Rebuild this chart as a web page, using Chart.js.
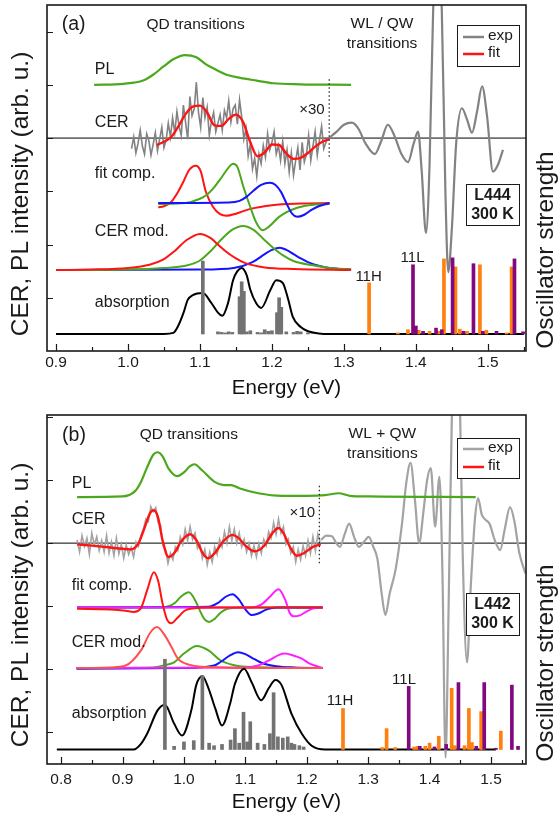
<!DOCTYPE html>
<html>
<head>
<meta charset="utf-8">
<script src="https://cdn.jsdelivr.net/npm/chart.js@4.4.1/dist/chart.umd.min.js"></script>
<style>
  html, body { margin: 0; padding: 0; background: #fff; }
  #wrap { position: relative; width: 560px; height: 819px; overflow: hidden; }
  canvas { position: absolute; left: 0; }
  #ca { top: 0; }
  #cb { top: 405px; }
</style>
</head>
<body>
<div id="wrap">
  <canvas id="ca" width="560" height="405"></canvas>
  <canvas id="cb" width="560" height="414"></canvas>
</div>
<script>
// ---- panel (a) data : energies (eV) and offset intensities (arb. u.) ----
const xTicksA = [0.9, 1.0, 1.1, 1.2, 1.3, 1.4, 1.5];
const xMinorA = [0.95, 1.05, 1.15, 1.25, 1.35, 1.45, 1.55];
const yTicksA = [1, 2, 3, 4, 5, 6];

const plA_E = [0.953,0.994,1.021,1.035,1.049,1.063,1.079,1.095,1.109,1.123,1.137,1.156,1.179,1.202,1.239,1.31];
const plA_V = [5.00,5.02,5.08,5.19,5.34,5.48,5.56,5.52,5.38,5.28,5.19,5.13,5.08,5.03,5.01,5.00];

// CER exp, x30 part (uniform energy step)
const expA_E0 = 1.005, expA_dE = 0.003;
const expA_V = [3.80,4.02,3.72,3.90,4.15,3.85,3.70,4.08,3.95,3.68,
  3.88,4.10,3.76,3.98,4.20,3.82,3.96,4.28,4.02,4.38,
  4.10,4.50,4.22,4.05,4.62,4.30,3.98,4.78,4.42,4.55,
  5.05,4.48,4.20,4.76,4.38,4.58,4.05,4.32,4.48,4.12,
  4.28,4.44,4.15,4.52,4.38,4.70,4.30,4.55,4.62,4.26,
  4.72,4.40,3.98,4.18,3.66,3.88,3.42,3.62,3.28,3.70,
  3.52,3.86,3.64,4.08,3.78,3.92,4.12,3.70,3.86,3.58,
  3.94,3.52,3.78,3.36,3.72,3.30,3.58,3.82,3.40,3.92,
  3.55,3.70,4.05,3.58,3.85,4.12,3.68,3.96,4.22,3.80,
  3.92,4.00];
// CER exp, WL / QW part
const wlA_E = [1.279,1.29,1.30,1.311,1.32,1.33,1.343,1.352,1.361,1.37,1.38,1.389,1.397,1.403,1.408,1.414,1.419,1.424,1.430,1.436,1.441,1.445,1.450,1.456,1.464,1.471,1.478,1.485,1.492,1.499,1.507,1.514,1.521];
const wlA_V = [4.00,4.12,4.25,4.29,4.18,3.90,3.70,3.95,4.25,4.05,3.70,3.55,3.90,4.12,3.40,2.22,3.50,6.40,7.60,6.40,3.00,1.48,2.30,3.90,4.56,4.35,4.10,4.50,4.97,4.40,3.37,3.50,3.78];

const fitA_E = [1.04,1.05,1.06,1.07,1.08,1.09,1.10,1.11,1.12,1.13,1.14,1.15,1.16,1.17,1.18,1.19,1.20,1.21,1.22,1.23,1.24,1.25,1.26,1.27,1.28];
const fitA_V = [3.87,3.93,4.02,4.22,4.45,4.59,4.61,4.48,4.24,4.23,4.36,4.44,4.30,3.92,3.66,3.73,3.88,3.87,3.71,3.61,3.63,3.72,3.84,3.93,3.98];

// fit components
const crA_E = [1.042,1.05,1.06,1.07,1.077,1.085,1.094,1.101,1.108,1.118,1.128,1.137,1.15,1.17,1.20,1.24,1.28];
const crA_V = [2.70,2.72,2.80,3.00,3.18,3.40,3.48,3.38,3.00,2.71,2.57,2.54,2.58,2.67,2.74,2.77,2.78];
const cgA_E = [1.042,1.08,1.10,1.11,1.12,1.13,1.14,1.146,1.152,1.16,1.168,1.178,1.187,1.197,1.21,1.235,1.26,1.28];
const cgA_V = [2.76,2.78,2.86,2.94,3.08,3.26,3.45,3.52,3.46,3.10,2.78,2.42,2.27,2.35,2.52,2.69,2.75,2.76];
const cbA_E = [1.042,1.14,1.155,1.165,1.175,1.185,1.197,1.205,1.213,1.22,1.228,1.235,1.245,1.255,1.265,1.28];
const cbA_V = [2.78,2.79,2.82,2.90,3.02,3.12,3.16,3.12,2.98,2.78,2.58,2.52,2.56,2.65,2.72,2.78];

// CER modulus
const mrA_E = [0.90,0.95,1.00,1.03,1.048,1.065,1.082,1.10,1.115,1.125,1.137,1.15,1.163,1.19,1.23,1.31];
const mrA_V = [1.52,1.53,1.56,1.62,1.71,1.88,2.09,2.20,2.12,2.00,1.86,1.74,1.65,1.57,1.54,1.52];
const mgA_E = [0.90,1.00,1.05,1.08,1.10,1.115,1.13,1.145,1.16,1.175,1.19,1.20,1.215,1.23,1.257,1.28,1.31];
const mgA_V = [1.52,1.53,1.56,1.60,1.70,1.88,2.10,2.28,2.35,2.27,2.08,1.96,1.80,1.69,1.61,1.56,1.53];
const mbA_E = [0.90,1.10,1.147,1.173,1.19,1.20,1.211,1.22,1.23,1.24,1.25,1.265,1.28,1.31];
const mbA_V = [1.52,1.53,1.56,1.67,1.82,1.90,1.94,1.90,1.82,1.74,1.67,1.60,1.56,1.53];

// absorption
const abA_E = [0.90,1.05,1.063,1.069,1.077,1.083,1.09,1.104,1.115,1.125,1.131,1.139,1.146,1.152,1.158,1.165,1.170,1.178,1.185,1.198,1.206,1.215,1.222,1.229,1.24,1.25,1.265,1.28,1.55];
const abA_V = [0.32,0.32,0.34,0.45,0.71,0.96,1.05,1.09,0.92,0.72,0.66,0.90,1.33,1.50,1.56,1.42,1.15,0.90,0.81,1.15,1.33,1.28,1.00,0.64,0.45,0.37,0.33,0.32,0.32];

// oscillator strengths (height above absorption baseline)
const qdA_E = [1.104,1.125,1.13,1.135,1.14,1.145,1.155,1.158,1.161,1.165,1.17,1.18,1.185,1.19,1.195,1.20,1.207,1.210,1.213,1.22,1.23,1.235,1.24,1.25];
const qdA_H = [1.37,0.04,0.03,0.02,0.04,0.03,0.70,0.98,0.80,0.04,0.06,0.03,0.02,0.08,0.05,0.06,0.40,0.68,0.50,0.04,0.03,0.05,0.04,0.02];
const orA_E = [1.335,1.375,1.389,1.404,1.419,1.431,1.439,1.455,1.461,1.471,1.489,1.498,1.526,1.533];
const orA_H = [0.96,0.02,0.08,0.07,0.05,0.05,1.41,1.26,0.09,0.05,1.30,0.07,0.02,1.26];
const puA_E = [1.396,1.40,1.41,1.428,1.436,1.451,1.466,1.480,1.493,1.512,1.537,1.549];
const puA_H = [1.30,0.15,0.05,0.11,0.08,1.43,0.05,1.32,0.05,0.05,1.41,0.04];

const zeroA_E = [0.8875, 1.553], zeroA_V = [4, 4];
const dotA_E = [1.2796, 1.2796], dotA_V = [3.65, 5.13];

// ---- panel (b) data ----
const xTicksB = [0.8, 0.9, 1.0, 1.1, 1.2, 1.3, 1.4, 1.5];
const xMinorB = [0.85, 0.95, 1.05, 1.15, 1.25, 1.35, 1.45, 1.55];
const yTicksB = [0, 1, 2, 3, 4, 5];

const plB_E = [0.826,0.90,0.92,0.93,0.94,0.95,0.957,0.965,0.975,0.989,1.00,1.01,1.017,1.03,1.05,1.065,1.077,1.09,1.121,1.16,1.20,1.23,1.252,1.27,1.30,1.475];
const plB_V = [3.73,3.74,3.82,3.97,4.20,4.40,4.44,4.38,4.18,4.06,4.12,4.22,4.25,4.15,3.97,3.92,3.92,3.87,3.79,3.75,3.75,3.76,3.79,3.75,3.74,3.73];

const expB_E0 = 0.826, expB_dE = 0.004;
const expB_V = [3.05,2.86,3.12,2.95,3.08,2.82,3.16,2.97,3.10,2.88,
  3.04,2.86,3.12,2.84,3.02,2.80,3.08,2.83,2.98,2.76,
  2.97,2.82,2.93,2.78,3.02,
  2.95,3.12,3.22,3.38,3.34,3.58,3.50,3.56,3.32,3.28,
  2.96,2.90,2.68,2.84,2.74,2.94,
  2.88,3.10,2.98,3.22,3.04,3.26,3.06,3.16,2.92,3.00,
  2.76,2.90,2.66,2.86,2.70,2.94,2.82,3.06,2.94,3.18,
  3.00,3.26,3.04,3.22,3.00,3.16,2.94,3.06,2.86,3.00,
  2.80,2.96,2.78,2.99,2.84,3.06,2.96,3.18,3.08,3.32,
  3.14,3.38,3.16,3.26,2.98,3.06,2.84,2.94,2.70,2.90,
  2.74,2.96,2.80,3.04,2.84,3.10,2.88,3.14,3.00];
const wlB_E = [1.223,1.232,1.241,1.248,1.254,1.262,1.269,1.277,1.285,1.293,1.301,1.308,1.315,1.322,1.328,1.335,1.345,1.355,1.362,1.369,1.376,1.383,1.390,1.396,1.402,1.409,1.416,1.421,1.426,1.431,1.437,1.443,1.449,1.454,1.461,1.467,1.474,1.479,1.485,1.490,1.498,1.506,1.515,1.522,1.531,1.538,1.546,1.556];
const wlB_V = [3.05,3.12,3.11,3.00,2.94,3.15,3.31,3.10,2.94,3.02,3.10,2.95,2.75,2.20,1.86,2.20,2.60,3.30,3.95,4.27,3.70,3.00,3.50,4.00,4.19,3.26,4.05,2.50,-0.40,2.00,5.40,6.20,5.40,2.80,1.11,2.30,3.40,3.71,3.45,3.38,3.30,3.05,2.89,3.20,3.57,3.35,2.85,2.52];

const fitB_E = [0.826,0.85,0.88,0.90,0.913,0.925,0.935,0.945,0.951,0.958,0.965,0.975,0.985,0.995,1.01,1.02,1.03,1.039,1.05,1.065,1.079,1.09,1.10,1.115,1.13,1.145,1.154,1.162,1.172,1.184,1.195,1.21,1.223];
const fitB_V = [2.98,2.96,2.93,2.91,2.90,2.98,3.22,3.48,3.52,3.40,3.05,2.78,2.85,3.02,3.14,3.05,2.85,2.76,2.84,3.04,3.13,3.07,2.96,2.87,2.95,3.17,3.24,3.16,2.95,2.80,2.84,2.94,2.98];

const crB_E = [0.826,0.88,0.905,0.918,0.93,0.94,0.951,0.958,0.965,0.972,0.979,0.99,1.00,1.01,1.05,1.226];
const crB_V = [1.96,1.95,1.93,1.91,1.97,2.25,2.54,2.40,2.05,1.80,1.73,1.82,1.92,1.96,1.98,1.98];
const cgB_E = [0.826,0.96,0.975,0.985,0.995,1.008,1.018,1.025,1.033,1.041,1.05,1.06,1.071,1.10,1.226];
const cgB_V = [1.98,1.98,2.00,2.05,2.15,2.22,2.10,1.95,1.80,1.75,1.80,1.90,1.96,1.98,1.98];
const cbB_E = [0.826,1.04,1.055,1.068,1.079,1.09,1.10,1.11,1.12,1.135,1.15,1.226];
const cbB_V = [1.98,1.99,2.05,2.15,2.19,2.10,1.95,1.86,1.88,1.95,1.98,1.98];
const cmB_E = [0.826,1.11,1.125,1.14,1.154,1.165,1.172,1.178,1.19,1.20,1.213,1.226];
const cmB_V = [1.98,1.98,2.02,2.15,2.27,2.10,1.90,1.84,1.86,1.92,1.97,1.98];

const mrB_E = [0.825,0.88,0.905,0.93,0.945,0.956,0.968,0.98,0.99,1.01,1.03,1.06,1.10,1.226];
const mrB_V = [1.02,1.03,1.06,1.30,1.58,1.67,1.55,1.35,1.17,1.07,1.04,1.03,1.02,1.02];
const mgB_E = [0.825,0.95,0.97,0.984,1.00,1.021,1.04,1.06,1.08,1.10,1.226];
const mgB_V = [1.02,1.03,1.07,1.11,1.25,1.37,1.30,1.14,1.07,1.04,1.02];
const mbB_E = [0.825,1.00,1.049,1.06,1.075,1.088,1.10,1.115,1.127,1.15,1.18,1.226];
const mbB_V = [1.01,1.02,1.06,1.12,1.22,1.27,1.24,1.16,1.10,1.05,1.03,1.02];
const mmB_E = [0.825,1.10,1.121,1.14,1.155,1.164,1.178,1.192,1.203,1.213,1.226];
const mmB_V = [1.02,1.03,1.06,1.15,1.23,1.25,1.22,1.17,1.10,1.06,1.02];

const abB_E = [0.793,0.918,0.93,0.94,0.957,0.969,0.984,0.997,1.012,1.02,1.03,1.04,1.051,1.062,1.075,1.083,1.098,1.11,1.126,1.138,1.149,1.159,1.175,1.192,1.208,1.23,1.508];
const abB_V = [-0.27,-0.27,-0.18,-0.02,0.35,0.44,0.14,-0.05,0.35,0.75,0.89,0.70,0.38,0.11,0.45,0.77,1.01,0.80,0.51,0.70,0.83,0.75,0.30,-0.02,-0.21,-0.27,-0.27];

const qdB_E = [0.969,0.984,1.000,1.016,1.030,1.041,1.049,1.062,1.076,1.083,1.090,1.097,1.103,1.108,1.12,1.131,1.140,1.146,1.153,1.161,1.169,1.175,1.18,1.188,1.195];
const qdB_H = [1.43,0.05,0.12,0.14,1.17,0.10,0.06,0.08,0.15,0.33,0.10,0.59,0.12,0.44,0.10,0.08,0.25,0.90,0.20,0.18,0.20,0.10,0.08,0.06,0.04];
const orB_E = [1.259,1.323,1.330,1.344,1.375,1.381,1.393,1.400,1.415,1.436,1.441,1.457,1.464,1.469,1.484,1.487,1.516];
const orB_H = [0.65,0.03,0.33,0.03,0.04,0.05,0.05,0.10,0.21,0.97,0.06,0.06,0.65,0.11,0.60,0.06,0.29];
const puB_E = [1.366,1.384,1.408,1.427,1.447,1.476,1.489,1.508,1.534,1.544];
const puB_H = [1.00,0.05,0.04,0.08,1.06,0.05,1.06,0.02,1.02,0.05];

const zeroB_E = [0.777, 1.557], zeroB_V = [3, 3];
const dotB_E = [1.2205, 1.2205], dotB_V = [2.68, 3.92];

// ---- styling helpers ----
const FONT = '"Liberation Sans", Arial, Helvetica, sans-serif';
Chart.defaults.font.family = FONT;
Chart.defaults.color = '#1a1a1a';

const GREEN = '#4ba81c', RED = '#ff1414', BLUE = '#1414ff', MAG = '#ff1eff';
const ORANGE = '#ff7f0f', PURPLE = '#82087f', BARGRAY = '#727272';

let ord = 0;
function curve(E, V, color, w, more) {
  return Object.assign({
    type: 'line', yAxisID: 'y',
    data: E.map((e, i) => ({x: e, y: V[i]})),
    borderColor: color, borderWidth: w, pointRadius: 0, fill: false,
    cubicInterpolationMode: 'monotone', order: ord--
  }, more || {});
}
function noisy(e0, de, V, color, w) {
  const E = V.map((_, i) => +(e0 + i * de).toFixed(4));
  return curve(E, V, color, w, {cubicInterpolationMode: 'default', tension: 0});
}
function sticks(E, H, color, w) {
  return {
    type: 'bar', yAxisID: 'y2',
    data: E.map((e, i) => ({x: e, y: H[i]})),
    backgroundColor: color, barThickness: w, grouped: false, borderWidth: 0, order: ord--
  };
}

function decor(o) {
  return {
    id: 'decor',
    afterDatasetsDraw(chart) {
      const {ctx, chartArea: a, scales: {x, y}} = chart;
      ctx.save();
      // inward tick marks
      ctx.strokeStyle = '#1a1a1a';
      ctx.lineWidth = 1.2;
      ctx.beginPath();
      o.xMajor.forEach(v => { const p = Math.round(x.getPixelForValue(v)) + 0.5; ctx.moveTo(p, a.bottom); ctx.lineTo(p, a.bottom - 7); });
      o.xMinor.forEach(v => { const p = Math.round(x.getPixelForValue(v)) + 0.5; ctx.moveTo(p, a.bottom); ctx.lineTo(p, a.bottom - 4); });
      o.yTicks.forEach(v => { const p = Math.round(y.getPixelForValue(v)) + 0.5; ctx.moveTo(a.left, p); ctx.lineTo(a.left + 6, p); });
      ctx.stroke();
      ctx.lineWidth = 1.6;
      ctx.strokeRect(a.left, a.top, a.right - a.left, a.bottom - a.top);

      // text labels placed in data coordinates
      ctx.fillStyle = '#1a1a1a';
      ctx.textBaseline = 'middle';
      o.labels.forEach(([t, ex, ey, al, sz]) => {
        ctx.font = sz + 'px ' + FONT;
        ctx.textAlign = al;
        ctx.fillText(t, x.getPixelForValue(ex), y.getPixelForValue(ey));
      });

      // legend box
      const L = o.legend;
      ctx.fillStyle = '#fff';
      ctx.fillRect(L.x, L.y, L.w, L.h);
      ctx.lineWidth = 1;
      ctx.strokeStyle = '#1a1a1a';
      ctx.strokeRect(L.x + 0.5, L.y + 0.5, L.w, L.h);
      ctx.lineWidth = 2.5;
      [[o.expColor, 'exp', L.y1], [RED, 'fit', L.y2]].forEach(([c, t, ly]) => {
        ctx.strokeStyle = c;
        ctx.beginPath(); ctx.moveTo(L.x + 6, ly); ctx.lineTo(L.x + 27, ly); ctx.stroke();
        ctx.fillStyle = '#1a1a1a';
        ctx.font = '15.5px ' + FONT;
        ctx.textAlign = 'left';
        ctx.fillText(t, L.x + 31, ly - 1);
      });

      // sample box
      const S = o.sample;
      ctx.fillStyle = '#fff';
      ctx.fillRect(S.x, S.y, S.w, S.h);
      ctx.lineWidth = 1;
      ctx.strokeStyle = '#1a1a1a';
      ctx.strokeRect(S.x + 0.5, S.y + 0.5, S.w, S.h);
      ctx.fillStyle = '#1a1a1a';
      ctx.font = 'bold 16px ' + FONT;
      ctx.textAlign = 'center';
      ctx.fillText(S.t1, S.x + S.w / 2, S.y + 12);
      ctx.fillText(S.t2, S.x + S.w / 2, S.y + 31);

      // y titles, both reading bottom to top
      ctx.font = '24.5px ' + FONT;
      [[o.leftTitle, 'CER, PL intensity (arb. u.)'], [o.rightTitle, 'Oscillator strength']].forEach(([p, t]) => {
        ctx.save();
        ctx.translate(p[0], p[1]);
        ctx.rotate(-Math.PI / 2);
        ctx.fillText(t, 0, 0);
        ctx.restore();
      });
      ctx.restore();
    }
  };
}

function panel(id, o) {
  return new Chart(document.getElementById(id), {
    type: 'line',
    data: {datasets: o.datasets},
    plugins: [decor(o.decor)],
    options: {
      responsive: false, animation: false, devicePixelRatio: 1,
      layout: {padding: {top: o.padTop, right: 34, left: 0, bottom: 0}},
      plugins: {legend: {display: false}, tooltip: {enabled: false}},
      scales: {
        x: {
          type: 'linear', offset: false, min: o.xRange[0], max: o.xRange[1],
          afterBuildTicks: s => { s.ticks = o.decor.xMajor.map(v => ({value: v})); },
          afterFit: s => { s.height = o.xAxisH; },
          grid: {display: false, drawTicks: false, offset: false}, border: {display: false},
          ticks: {autoSkip: false, maxRotation: 0, padding: o.tickPad, font: {size: 15.5}, color: '#1a1a1a',
                  callback: v => v.toFixed(1)},
          title: {display: true, text: 'Energy (eV)', font: {size: 20.5}, color: '#111',
                  padding: {top: 0, bottom: 4.5}}
        },
        y: {
          type: 'linear', min: o.yRange[0], max: o.yRange[1],
          afterFit: s => { s.width = 47; },
          grid: {display: false, drawTicks: false}, border: {display: false},
          ticks: {display: false}
        },
        y2: {type: 'linear', display: false, min: o.y2Range[0], max: o.y2Range[1]}
      }
    }
  });
}

// ---- panel (a) ----
ord = 0;
const dsA = [
  curve(zeroA_E, zeroA_V, '#000', 1, {cubicInterpolationMode: 'default'}),
  curve(crA_E, crA_V, RED, 2),
  curve(cgA_E, cgA_V, GREEN, 2),
  curve(cbA_E, cbA_V, BLUE, 2),
  curve(mbA_E, mbA_V, BLUE, 2),
  curve(mgA_E, mgA_V, GREEN, 2),
  curve(mrA_E, mrA_V, RED, 2),
  curve(abA_E, abA_V, '#000', 2),
  sticks(qdA_E, qdA_H, BARGRAY, 3),
  noisy(expA_E0, expA_dE, expA_V, '#828282', 1.6),
  curve(wlA_E, wlA_V, '#828282', 2.2),
  curve(fitA_E, fitA_V, RED, 2.4),
  curve(plA_E, plA_V, GREEN, 2.2),
  curve(dotA_E, dotA_V, '#222', 1.2, {borderDash: [1.5, 2.5], cubicInterpolationMode: 'default'}),
  sticks(orA_E, orA_H, ORANGE, 3),
  sticks(puA_E, puA_H, PURPLE, 3)
];
panel('ca', {
  datasets: dsA, padTop: 5, xAxisH: 54, tickPad: 2,
  xRange: [0.8875, 1.553], yRange: [0, 6.5], y2Range: [-0.32, 6.18],
  decor: {
    xMajor: xTicksA, xMinor: xMinorA, yTicks: yTicksA,
    labels: [
      ['(a)', 0.9079, 6.13, 'left', 19.5],
      ['QD transitions', 1.094, 6.13, 'center', 15.5],
      ['WL / QW', 1.353, 6.15, 'center', 15.5],
      ['transitions', 1.353, 5.77, 'center', 15.5],
      ['PL', 0.954, 5.28, 'left', 16],
      ['CER', 0.954, 4.29, 'left', 16],
      ['fit comp.', 0.954, 3.33, 'left', 16],
      ['CER mod.', 0.954, 2.25, 'left', 16],
      ['absorption', 0.954, 0.90, 'left', 16],
      ['\u00d730', 1.2556, 4.53, 'center', 15],
      ['11H', 1.3343, 1.40, 'center', 15],
      ['11L', 1.3954, 1.75, 'center', 15]
    ],
    expColor: '#828282',
    legend: {x: 457, y: 25, w: 62, h: 41, y1: 37, y2: 54},
    sample: {x: 466, y: 184, w: 53, h: 41, t1: 'L444', t2: '300 K'},
    leftTitle: [21, 194], rightTitle: [546, 250]
  }
});

// ---- panel (b) ----
ord = 0;
const dsB = [
  curve(zeroB_E, zeroB_V, '#000', 1, {cubicInterpolationMode: 'default'}),
  curve(cgB_E, cgB_V, GREEN, 2),
  curve(cbB_E, cbB_V, BLUE, 2),
  curve(cmB_E, cmB_V, MAG, 2),
  curve(crB_E, crB_V, RED, 2),
  curve(mgB_E, mgB_V, GREEN, 2),
  curve(mbB_E, mbB_V, BLUE, 2),
  curve(mmB_E, mmB_V, MAG, 2),
  curve(mrB_E, mrB_V, '#ff5050', 2),
  curve(abB_E, abB_V, '#000', 2),
  sticks(qdB_E, qdB_H, BARGRAY, 3),
  noisy(expB_E0, expB_dE, expB_V, '#a3a3a3', 1.6),
  curve(wlB_E, wlB_V, '#a3a3a3', 2.2),
  curve(fitB_E, fitB_V, RED, 2.4),
  curve(plB_E, plB_V, GREEN, 2.2),
  curve(dotB_E, dotB_V, '#222', 1.2, {borderDash: [1.5, 2.5], cubicInterpolationMode: 'default'}),
  sticks(orB_E, orB_H, ORANGE, 3),
  sticks(puB_E, puB_H, PURPLE, 3)
];
panel('cb', {
  datasets: dsB, padTop: 10, xAxisH: 55, tickPad: 6,
  xRange: [0.777, 1.557], yRange: [-0.5, 5.03], y2Range: [-0.23, 5.30],
  decor: {
    xMajor: xTicksB, xMinor: xMinorB, yTicks: yTicksB,
    labels: [
      ['(b)', 0.8016, 4.70, 'left', 19.5],
      ['QD transitions', 1.0079, 4.71, 'center', 15.5],
      ['WL + QW', 1.3232, 4.73, 'center', 15.5],
      ['transitions', 1.3232, 4.41, 'center', 15.5],
      ['PL', 0.8174, 3.94, 'left', 16],
      ['CER', 0.8174, 3.38, 'left', 16],
      ['fit comp.', 0.8174, 2.32, 'left', 16],
      ['CER mod.', 0.8174, 1.42, 'left', 16],
      ['absorption', 0.8174, 0.30, 'left', 16],
      ['\u00d710', 1.1928, 3.48, 'center', 15],
      ['11H', 1.2542, 0.50, 'center', 15],
      ['11L', 1.3584, 0.83, 'center', 15]
    ],
    expColor: '#a3a3a3',
    legend: {x: 457, y: 33, w: 62, h: 40, y1: 44, y2: 62},
    sample: {x: 466, y: 188, w: 53, h: 42, t1: 'L442', t2: '300 K'},
    leftTitle: [21, 200], rightTitle: [546, 258]
  }
});
</script>
</body>
</html>
